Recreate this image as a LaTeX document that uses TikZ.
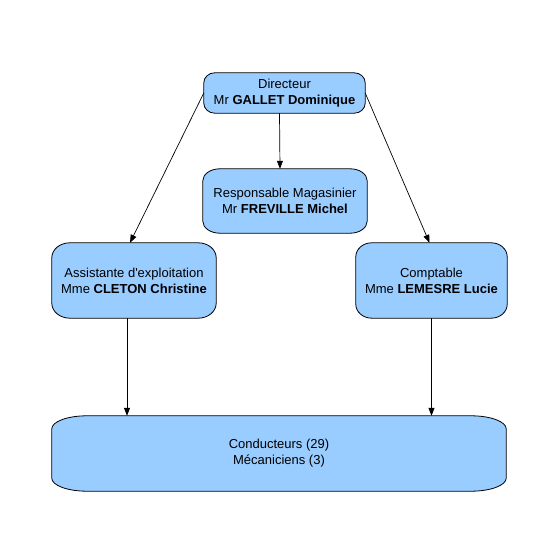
\documentclass[tikz,border=0pt]{standalone}
\usepackage{fontspec}
\setmainfont{Liberation Sans}
\usepackage{xcolor}
\usetikzlibrary{arrows.meta,backgrounds,calc}

\definecolor{boxblue}{RGB}{153,204,255}

% outline of a box: node name, x radius, y radius of the corners
\newcommand{\boxoutline}[3]{%
  \filldraw[boxline] ([xshift=#2]#1.north west) -- ([xshift=-#2]#1.north east)
    arc[start angle=90, end angle=0, x radius=#2, y radius=#3]
    -- ([yshift=#3]#1.south east)
    arc[start angle=0, end angle=-90, x radius=#2, y radius=#3]
    -- ([xshift=#2]#1.south west)
    arc[start angle=270, end angle=180, x radius=#2, y radius=#3]
    -- ([yshift=-#3]#1.north west)
    arc[start angle=180, end angle=90, x radius=#2, y radius=#3] -- cycle;}

\begin{document}
\begin{tikzpicture}[x=1pt, y=1pt, >={Triangle[length=8pt,width=6pt]},
  orgbox/.style={inner sep=0pt, align=center, font=\fontsize{13}{16}\selectfont},
  boxline/.style={draw=black, line width=0.8pt, fill=boxblue},
  link/.style={->, line width=0.7pt}]

\useasboundingbox (0, 0) rectangle (552, 555);

% Boxes
\node[orgbox, minimum width=161, minimum height=40] (dir) at (284.5, 462)
  {Directeur\\Mr \textbf{GALLET Dominique}};
\node[orgbox, minimum width=164, minimum height=64] (resp) at (285, 354)
  {Responsable Magasinier\\Mr \textbf{FREVILLE Michel}};
\node[orgbox, minimum width=164, minimum height=75] (assist) at (134, 274.5)
  {Assistante d\textquotesingle exploitation\\Mme \textbf{CLETON Christine}};
\node[orgbox, minimum width=151, minimum height=75] (compt) at (431.5, 274.5)
  {Comptable\\Mme \textbf{LEMESRE Lucie}};
\node[orgbox, minimum width=454, minimum height=75] (staff) at (279, 101.5)
  {Conducteurs (29)\\Mécaniciens (3)};

% Box outlines
\begin{scope}[on background layer]
  \boxoutline{dir}{11}{10}
  \boxoutline{resp}{17}{12}
  \boxoutline{assist}{18}{15}
  \boxoutline{compt}{16}{14}
  \boxoutline{staff}{35}{13}
\end{scope}

% Links
\draw[link] ([xshift=-5]dir.south) -- ([xshift=-5]resp.north);
\draw[link] (dir.west) -- ([xshift=-4]assist.north);
\draw[link] (dir.east) -- ([xshift=-2]compt.north);
\draw[link] ([xshift=-7]assist.south) -- ([xshift=-7]assist.south |- staff.north);
\draw[link] (compt.south) -- (compt.south |- staff.north);

\end{tikzpicture}
\end{document}
